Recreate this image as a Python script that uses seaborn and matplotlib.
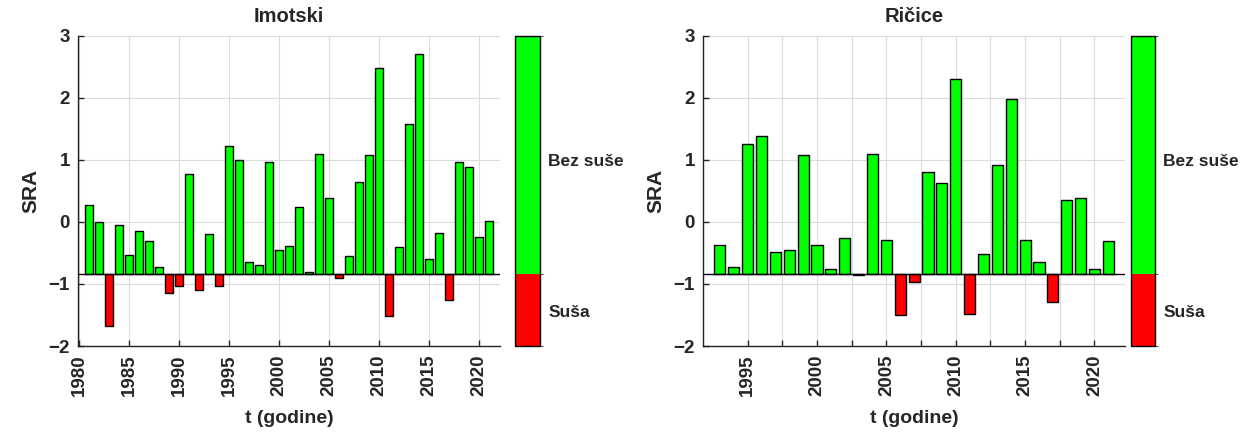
import matplotlib
matplotlib.use('Agg')
import matplotlib.pyplot as plt
from matplotlib.colors import ListedColormap, BoundaryNorm
import numpy as np
import pandas as pd
import seaborn as sns

# SRA threshold (baseline of bars and boundary on colour bar)
threshold = -0.84

imotski_years = list(range(1981, 2022))
imotski_sra = [0.27, 0.00, -1.67, -0.05, -0.53, -0.15, -0.31, -0.73, -1.15, -1.04,
               0.78, -1.09, -0.20, -1.03, 1.22, 1.00, -0.65, -0.69, 0.96, -0.45,
               -0.38, 0.24, -0.81, 1.10, 0.38, -0.90, -0.55, 0.64, 1.08, 2.48,
               -1.51, -0.40, 1.58, 2.70, -0.59, -0.17, -1.25, 0.96, 0.88, -0.24,
               0.02]

ricice_years = list(range(1993, 2022))
ricice_sra = [-0.37, -0.73, 1.26, 1.38, -0.48, -0.45, 1.08, -0.37, -0.76, -0.26,
              -0.86, 1.10, -0.29, -1.50, -0.96, 0.80, 0.62, 2.30, -1.48, -0.51,
              0.92, 1.98, -0.29, -0.65, -1.29, 0.36, 0.38, -0.76, -0.31]

class_names = ['Suša', 'Bez suše']
class_colors = ['#ff0000', '#00ff00']
class_ticks = [-1.43, 1.0]

sns.set_style('white')
plt.rcParams['font.family'] = ['Liberation Sans', 'DejaVu Sans']
plt.rcParams['font.weight'] = 'bold'

fig = plt.figure(figsize=(12.5, 4.32), dpi=100)


def draw_panel(rect, cb_rect, years, sra, title, xlim, xticks, xlabels):
    ax = fig.add_axes(rect)
    df = pd.DataFrame({'year': years, 'sra': sra})
    df['klasa'] = np.where(df['sra'] < threshold, class_names[0], class_names[1])

    sns.barplot(data=df, x='year', y='sra', hue='klasa', hue_order=class_names,
                palette=class_colors, native_scale=True, dodge=False, width=0.8,
                errorbar=None, edgecolor='black', linewidth=1, legend=False,
                saturation=1, ax=ax)
    # bars start from the threshold, not from zero
    for p in ax.patches:
        top = p.get_y() + p.get_height()
        p.set_y(threshold)
        p.set_height(top - threshold)
    ax.axhline(threshold, color='black', lw=1, zorder=3)

    ax.set_xlim(xlim)
    ax.set_ylim(-2, 3)
    ax.set_yticks(range(-2, 4))
    ax.set_xticks(xticks)
    ax.set_xticklabels(xlabels, rotation=90)
    ax.grid(True, color='#dcdcdc', lw=0.8)
    ax.set_axisbelow(True)
    for s in ['top', 'right']:
        ax.spines[s].set_visible(False)
    for s in ['left', 'bottom']:
        ax.spines[s].set_color('#222222')
        ax.spines[s].set_linewidth(1)
    ax.tick_params(axis='both', direction='in', length=4, width=1,
                   labelsize=13.5, pad=6, left=True, bottom=True)
    for t in ax.get_xticklabels() + ax.get_yticklabels():
        t.set_fontweight('bold')
    ax.set_title(title, fontsize=14.5, fontweight='bold', pad=10)
    ax.set_ylabel('SRA', fontsize=15, fontweight='bold', labelpad=6)
    ax.set_xlabel('t (godine)', fontsize=14, fontweight='bold', labelpad=10)

    # colour bar with the two classes
    cax = fig.add_axes(cb_rect)
    cmap = ListedColormap(class_colors)
    norm = BoundaryNorm([-2, threshold, 3], cmap.N)
    cb = fig.colorbar(plt.cm.ScalarMappable(norm=norm, cmap=cmap), cax=cax,
                      spacing='proportional')
    cb.set_ticks(class_ticks)
    cb.set_ticklabels(class_names)
    cb.outline.set_edgecolor('black')
    cb.outline.set_linewidth(1)
    cax.tick_params(direction='in', length=3, width=1, labelsize=12.5, pad=6)
    for t in cax.get_yticklabels():
        t.set_fontweight('bold')
    return ax


left_ticks = list(range(1980, 2021, 5))
draw_panel([0.0626, 0.199, 0.3374, 0.718], [0.412, 0.199, 0.02, 0.718],
           imotski_years, imotski_sra, 'Imotski', (1979.9, 2022.1),
           left_ticks, [str(y) for y in left_ticks])

right_ticks = list(np.arange(1995, 2020.1, 2.5))
right_labels = [str(int(y)) if y % 5 == 0 else '' for y in right_ticks]
draw_panel([0.5626, 0.199, 0.3374, 0.718], [0.9046, 0.199, 0.0195, 0.718],
           ricice_years, ricice_sra, 'Ričice', (1991.8, 2022.2),
           right_ticks, right_labels)

plt.savefig('out.png', dpi=100)
